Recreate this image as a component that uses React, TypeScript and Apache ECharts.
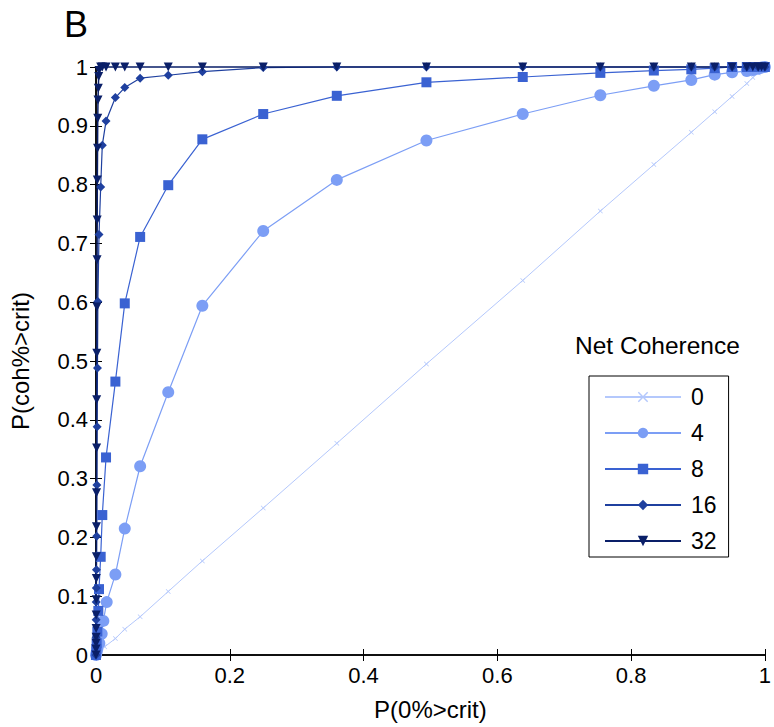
import React, { useEffect, useRef } from "react";
import * as echarts from "echarts";

// Net coherence levels (legend)
const LEVELS = ["0", "4", "8", "16", "32"];

// P(0%>crit) and P(coh%>crit), one pair of arrays per series
const X_0 = [0, 0.002, 0.005, 0.013, 0.029, 0.043, 0.066, 0.108, 0.159, 0.25, 0.36, 0.494, 0.638, 0.754, 0.834, 0.89, 0.925, 0.951, 0.973, 0.982, 0.99, 0.995, 1];
const Y_0 = [0, 0.002, 0.006, 0.014, 0.028, 0.044, 0.065, 0.108, 0.16, 0.25, 0.36, 0.495, 0.637, 0.755, 0.834, 0.889, 0.924, 0.95, 0.972, 0.982, 0.99, 0.995, 1];

const X_4 = [0, 0.001, 0.002, 0.005, 0.0085, 0.011, 0.016, 0.029, 0.043, 0.066, 0.108, 0.159, 0.25, 0.36, 0.494, 0.638, 0.754, 0.834, 0.89, 0.925, 0.951, 0.973, 0.982, 0.99, 0.995, 1];
const Y_4 = [0, 0.005, 0.01, 0.02, 0.036, 0.058, 0.09, 0.137, 0.215, 0.321, 0.447, 0.594, 0.721, 0.808, 0.875, 0.92, 0.952, 0.968, 0.978, 0.987, 0.991, 0.993, 0.995, 0.997, 0.999, 1];

const X_8 = [0, 0.0005, 0.001, 0.002, 0.0035, 0.0045, 0.007, 0.0094, 0.015, 0.029, 0.043, 0.066, 0.108, 0.159, 0.25, 0.36, 0.494, 0.638, 0.754, 0.834, 0.89, 0.925, 0.951, 0.973, 0.982, 0.99, 1];
const Y_8 = [0, 0.01, 0.02, 0.04, 0.075, 0.112, 0.167, 0.238, 0.336, 0.465, 0.598, 0.711, 0.799, 0.877, 0.92, 0.951, 0.974, 0.983, 0.99, 0.994, 0.996, 0.998, 1, 1, 1, 1, 1];

const X_16 = [0, 0.0001, 0.0002, 0.0003, 0.0005, 0.0007, 0.001, 0.0013, 0.0017, 0.0022, 0.0028, 0.0045, 0.007, 0.0094, 0.015, 0.029, 0.043, 0.066, 0.108, 0.159, 0.25, 0.36, 0.494, 0.638, 0.754, 0.834, 0.89, 0.925, 0.951, 0.973, 0.99, 1];
const Y_16 = [0, 0.03, 0.06, 0.09, 0.114, 0.145, 0.202, 0.289, 0.388, 0.488, 0.601, 0.715, 0.796, 0.867, 0.908, 0.948, 0.965, 0.981, 0.986, 0.992, 0.999, 1, 1, 1, 1, 1, 1, 1, 1, 1, 1, 1];

const X_32 = [0, 0.00005, 0.0001, 0.00015, 0.0002, 0.0003, 0.0004, 0.0005, 0.0006, 0.0007, 0.0008, 0.0009, 0.001, 0.0012, 0.0014, 0.0016, 0.0018, 0.002, 0.0023, 0.0026, 0.003, 0.0035, 0.004, 0.0045, 0.007, 0.0094, 0.015, 0.029, 0.043, 0.066, 0.108, 0.159, 0.25, 0.36, 0.494, 0.638, 0.754, 0.834, 0.89, 0.925, 0.951, 0.973, 0.982, 0.99, 0.995, 1];
const Y_32 = [0, 0.01, 0.02, 0.03, 0.045, 0.068, 0.094, 0.13, 0.167, 0.218, 0.276, 0.352, 0.434, 0.513, 0.592, 0.672, 0.74, 0.808, 0.862, 0.913, 0.944, 0.964, 0.984, 0.994, 1, 1, 1, 1, 1, 1, 1, 1, 1, 1, 1, 1, 1, 1, 1, 1, 1, 1, 1, 1, 1, 1];

const X_TICKS = [0, 0.2, 0.4, 0.6, 0.8, 1];
const Y_TICKS = [0, 0.1, 0.2, 0.3, 0.4, 0.5, 0.6, 0.7, 0.8, 0.9, 1];

const FONT = "Liberation Sans, Arial, Helvetica, sans-serif";
const CROSS = "path://M0,1 L1,0 L5,4 L9,0 L10,1 L6,5 L10,9 L9,10 L5,6 L1,10 L0,9 L4,5 Z";

const zip = (xs: number[], ys: number[]) => xs.map((x, i) => [x, ys[i]]);

export default function App() {
  const ref = useRef<HTMLDivElement>(null);
  useEffect(() => {
    if (!ref.current) return;
    const chart = echarts.init(ref.current, undefined, { renderer: "svg" });
    const fmt = (v: number) => String(Math.round(v * 10) / 10);
    const baseAxis = {
      type: "value" as const,
      min: 0,
      max: 1,
      axisLine: { show: true, lineStyle: { color: "#000", width: 1.5 } },
      axisTick: { show: true, inside: true, length: 6, lineStyle: { color: "#000", width: 1 } },
      splitLine: { show: false },
    };
    const specs = [
      { name: LEVELS[0], xs: X_0, ys: Y_0, color: "#b4c8fc", symbol: CROSS, size: 5, lw: 1, rot: 0 },
      { name: LEVELS[1], xs: X_4, ys: Y_4, color: "#7c9ef5", symbol: "circle", size: 12, lw: 1.2, rot: 0 },
      { name: LEVELS[2], xs: X_8, ys: Y_8, color: "#3a62d2", symbol: "rect", size: 10, lw: 1.2, rot: 0 },
      { name: LEVELS[3], xs: X_16, ys: Y_16, color: "#1f409f", symbol: "diamond", size: 9, lw: 1.2, rot: 0 },
      { name: LEVELS[4], xs: X_32, ys: Y_32, color: "#0a1f68", symbol: "triangle", size: 9, lw: 1.5, rot: 180 },
    ];
    chart.setOption({
      animation: false,
      textStyle: { fontFamily: FONT },
      grid: { left: 96, right: 5, top: 67, bottom: 72, containLabel: false },
      xAxis: [
        {
          ...baseAxis,
          position: "bottom",
          interval: X_TICKS[1] - X_TICKS[0],
          axisLabel: { color: "#000", fontSize: 22, margin: 9, fontFamily: FONT, formatter: fmt },
          name: "P(0%>crit)",
          nameLocation: "middle",
          nameGap: 42,
          nameTextStyle: { color: "#000", fontSize: 24, fontFamily: FONT },
        },
        { ...baseAxis, position: "top", interval: 0.2, axisLabel: { show: false } },
      ],
      yAxis: [
        {
          ...baseAxis,
          position: "left",
          interval: Y_TICKS[1] - Y_TICKS[0],
          axisLabel: { color: "#000", fontSize: 22, margin: 8, fontFamily: FONT, formatter: fmt },
          name: "P(coh%>crit)",
          nameLocation: "middle",
          nameGap: 64,
          nameTextStyle: { color: "#000", fontSize: 24, fontFamily: FONT },
        },
        { ...baseAxis, position: "right", interval: 0.1, axisLabel: { show: false } },
      ],
      legend: {
        data: LEVELS,
        orient: "vertical",
        left: 589,
        top: 376,
        itemWidth: 76,
        itemHeight: 13,
        itemGap: 12,
        padding: [9, 12, 4, 15],
        borderColor: "#000",
        borderWidth: 1,
        backgroundColor: "#fff",
        textStyle: { color: "#000", fontSize: 23, lineHeight: 24, padding: [0, 0, 0, 5], fontFamily: FONT },
      },
      graphic: [
        { type: "text", left: 64, top: 6, style: { text: "B", fontSize: 36, fill: "#000", fontFamily: FONT } },
        { type: "text", left: 575, top: 333, style: { text: "Net Coherence", fontSize: 24.5, fill: "#000", fontFamily: FONT } },
      ],
      series: specs.map((s) => ({
        type: "line",
        name: s.name,
        data: zip(s.xs, s.ys),
        symbol: s.symbol,
        symbolSize: s.size,
        symbolRotate: s.rot,
        showAllSymbol: true,
        clip: false,
        color: s.color,
        itemStyle: { color: s.color },
        lineStyle: { color: s.color, width: s.lw },
      })),
    });
    return () => chart.dispose();
  }, []);
  return <div ref={ref} style={{ position: "fixed", left: 0, top: 0, width: 774, height: 727, background: "#fff" }} />;
}
